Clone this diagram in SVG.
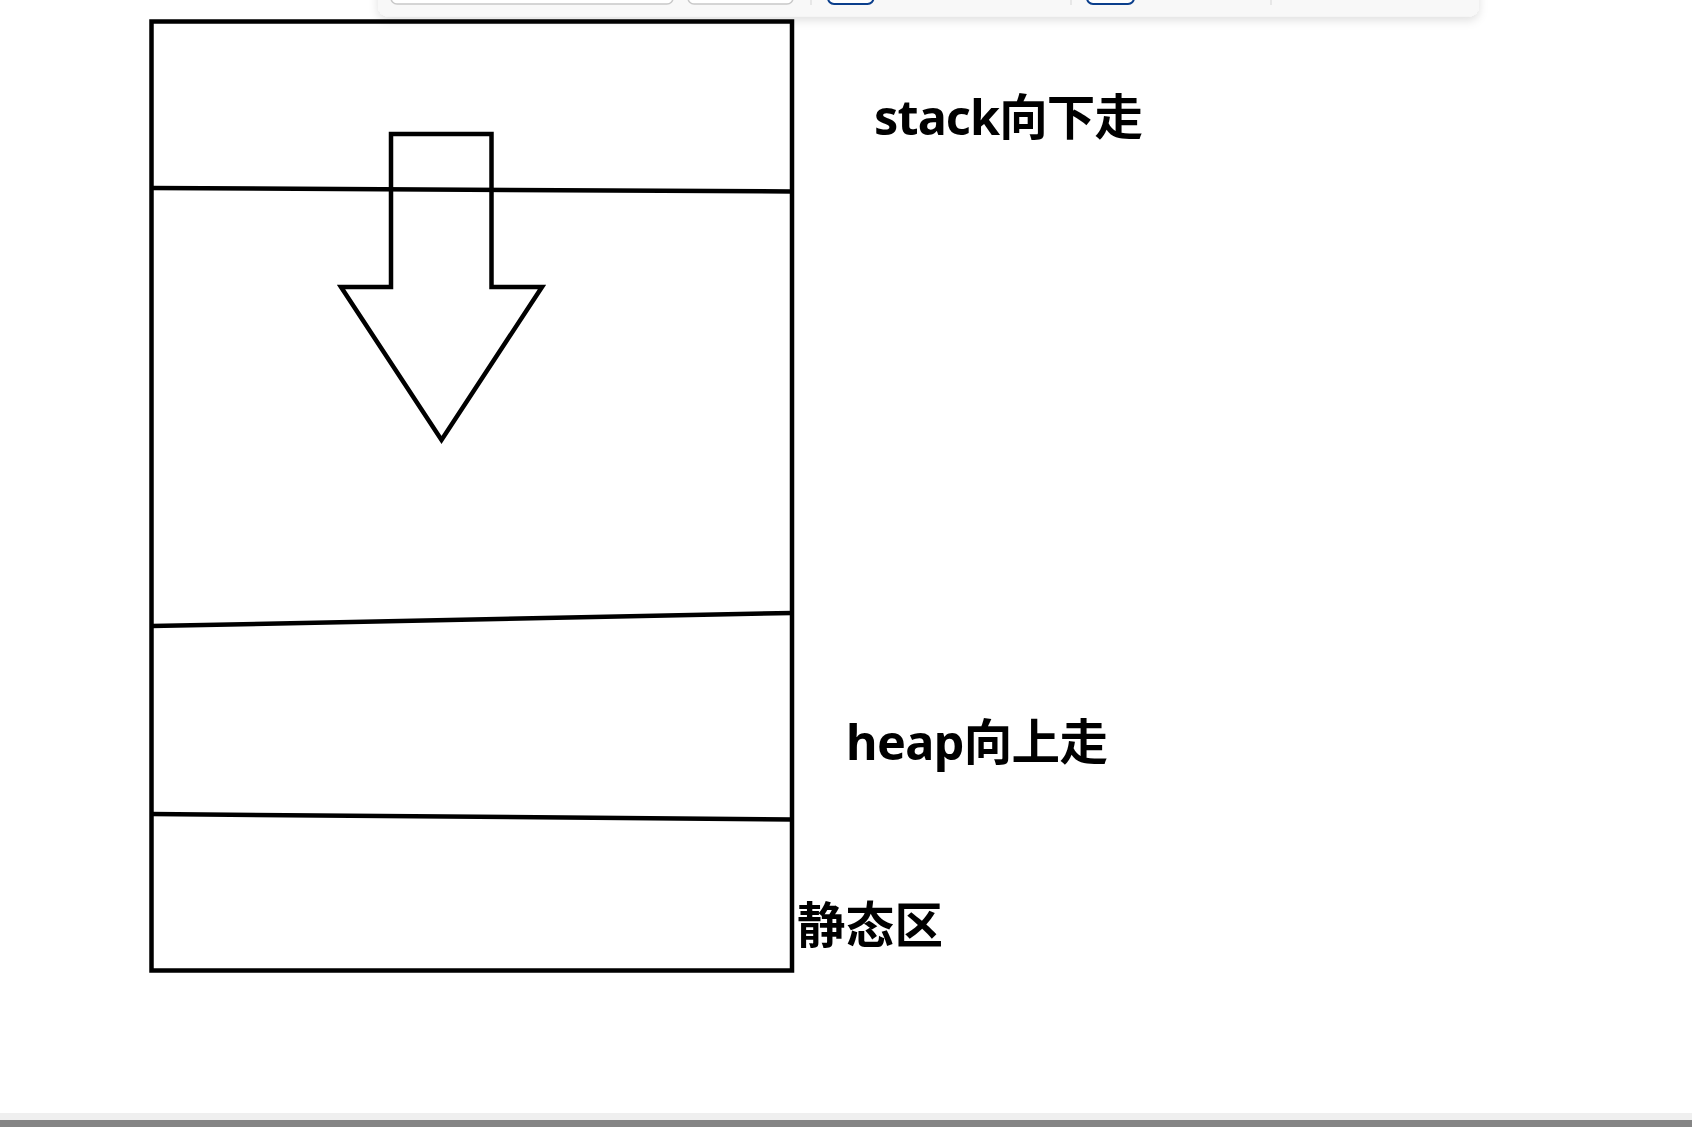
<svg xmlns="http://www.w3.org/2000/svg" width="1692" height="1127" viewBox="0 0 1692 1127">
  <defs>
    <style>
      .ln { fill: none; stroke: #000; stroke-width: 4.5; stroke-linejoin: miter; }
      .lbl { font-family: "Noto Sans", "Noto Sans CJK SC", sans-serif; font-weight: bold; font-size: 48.5px; fill: #000; }
      .btn { fill: #fff; stroke: #c8c8c8; stroke-width: 1.5; }
      .blue { fill: #fff; stroke: #0b3f8c; stroke-width: 2; }
      .sep { stroke: #d6d6d6; stroke-width: 1; }
    </style>
    <filter id="shadow" x="-5%" y="-50%" width="110%" height="250%">
      <feDropShadow dx="0" dy="4" stdDeviation="5" flood-color="#000" flood-opacity="0.12"/>
    </filter>
  </defs>
  <rect x="0" y="0" width="1692" height="1127" fill="#fff"/>

  <g id="toolbar">
    <rect x="378" y="-30" width="1101" height="46.5" rx="10" fill="#f8f8f8" filter="url(#shadow)"/>
    <rect class="btn" x="391" y="-20" width="282" height="24" rx="6"/>
    <rect class="btn" x="688" y="-20" width="105" height="24" rx="6"/>
    <line class="sep" x1="811" y1="0" x2="811" y2="5"/>
    <rect class="blue" x="828" y="-20" width="45.5" height="24" rx="6"/>
    <line class="sep" x1="1071" y1="0" x2="1071" y2="5"/>
    <rect class="blue" x="1087" y="-20" width="47" height="24" rx="6"/>
    <line class="sep" x1="1271" y1="0" x2="1271" y2="5"/>
  </g>

  <g id="memory-block">
    <rect class="ln" x="151.5" y="21.5" width="640.5" height="949"/>
  </g>

  <g id="connectors">
    <line class="ln" x1="151.5" y1="188" x2="792" y2="191.5"/>
    <line class="ln" x1="151.5" y1="626" x2="792" y2="613"/>
    <line class="ln" x1="151.5" y1="814" x2="792" y2="819.5"/>
  </g>

  <g id="down-arrow">
    <polygon class="ln" points="391,134 491.5,134 491.5,287 542,287 441.5,440 341,287 391,287"/>
  </g>

  <g id="label-stack">
    <text class="lbl" x="874" y="135" textLength="269">stack向下走</text>
  </g>
  <g id="label-heap">
    <text class="lbl" x="846" y="760" textLength="262">heap向上走</text>
  </g>
  <g id="label-static">
    <text class="lbl" x="797" y="943" textLength="146">静态区</text>
  </g>

  <g id="bottom-bar">
    <rect x="0" y="1113" width="1692" height="7" fill="#efefef"/>
    <rect x="0" y="1120" width="1692" height="7" fill="#858585"/>
  </g>
</svg>
